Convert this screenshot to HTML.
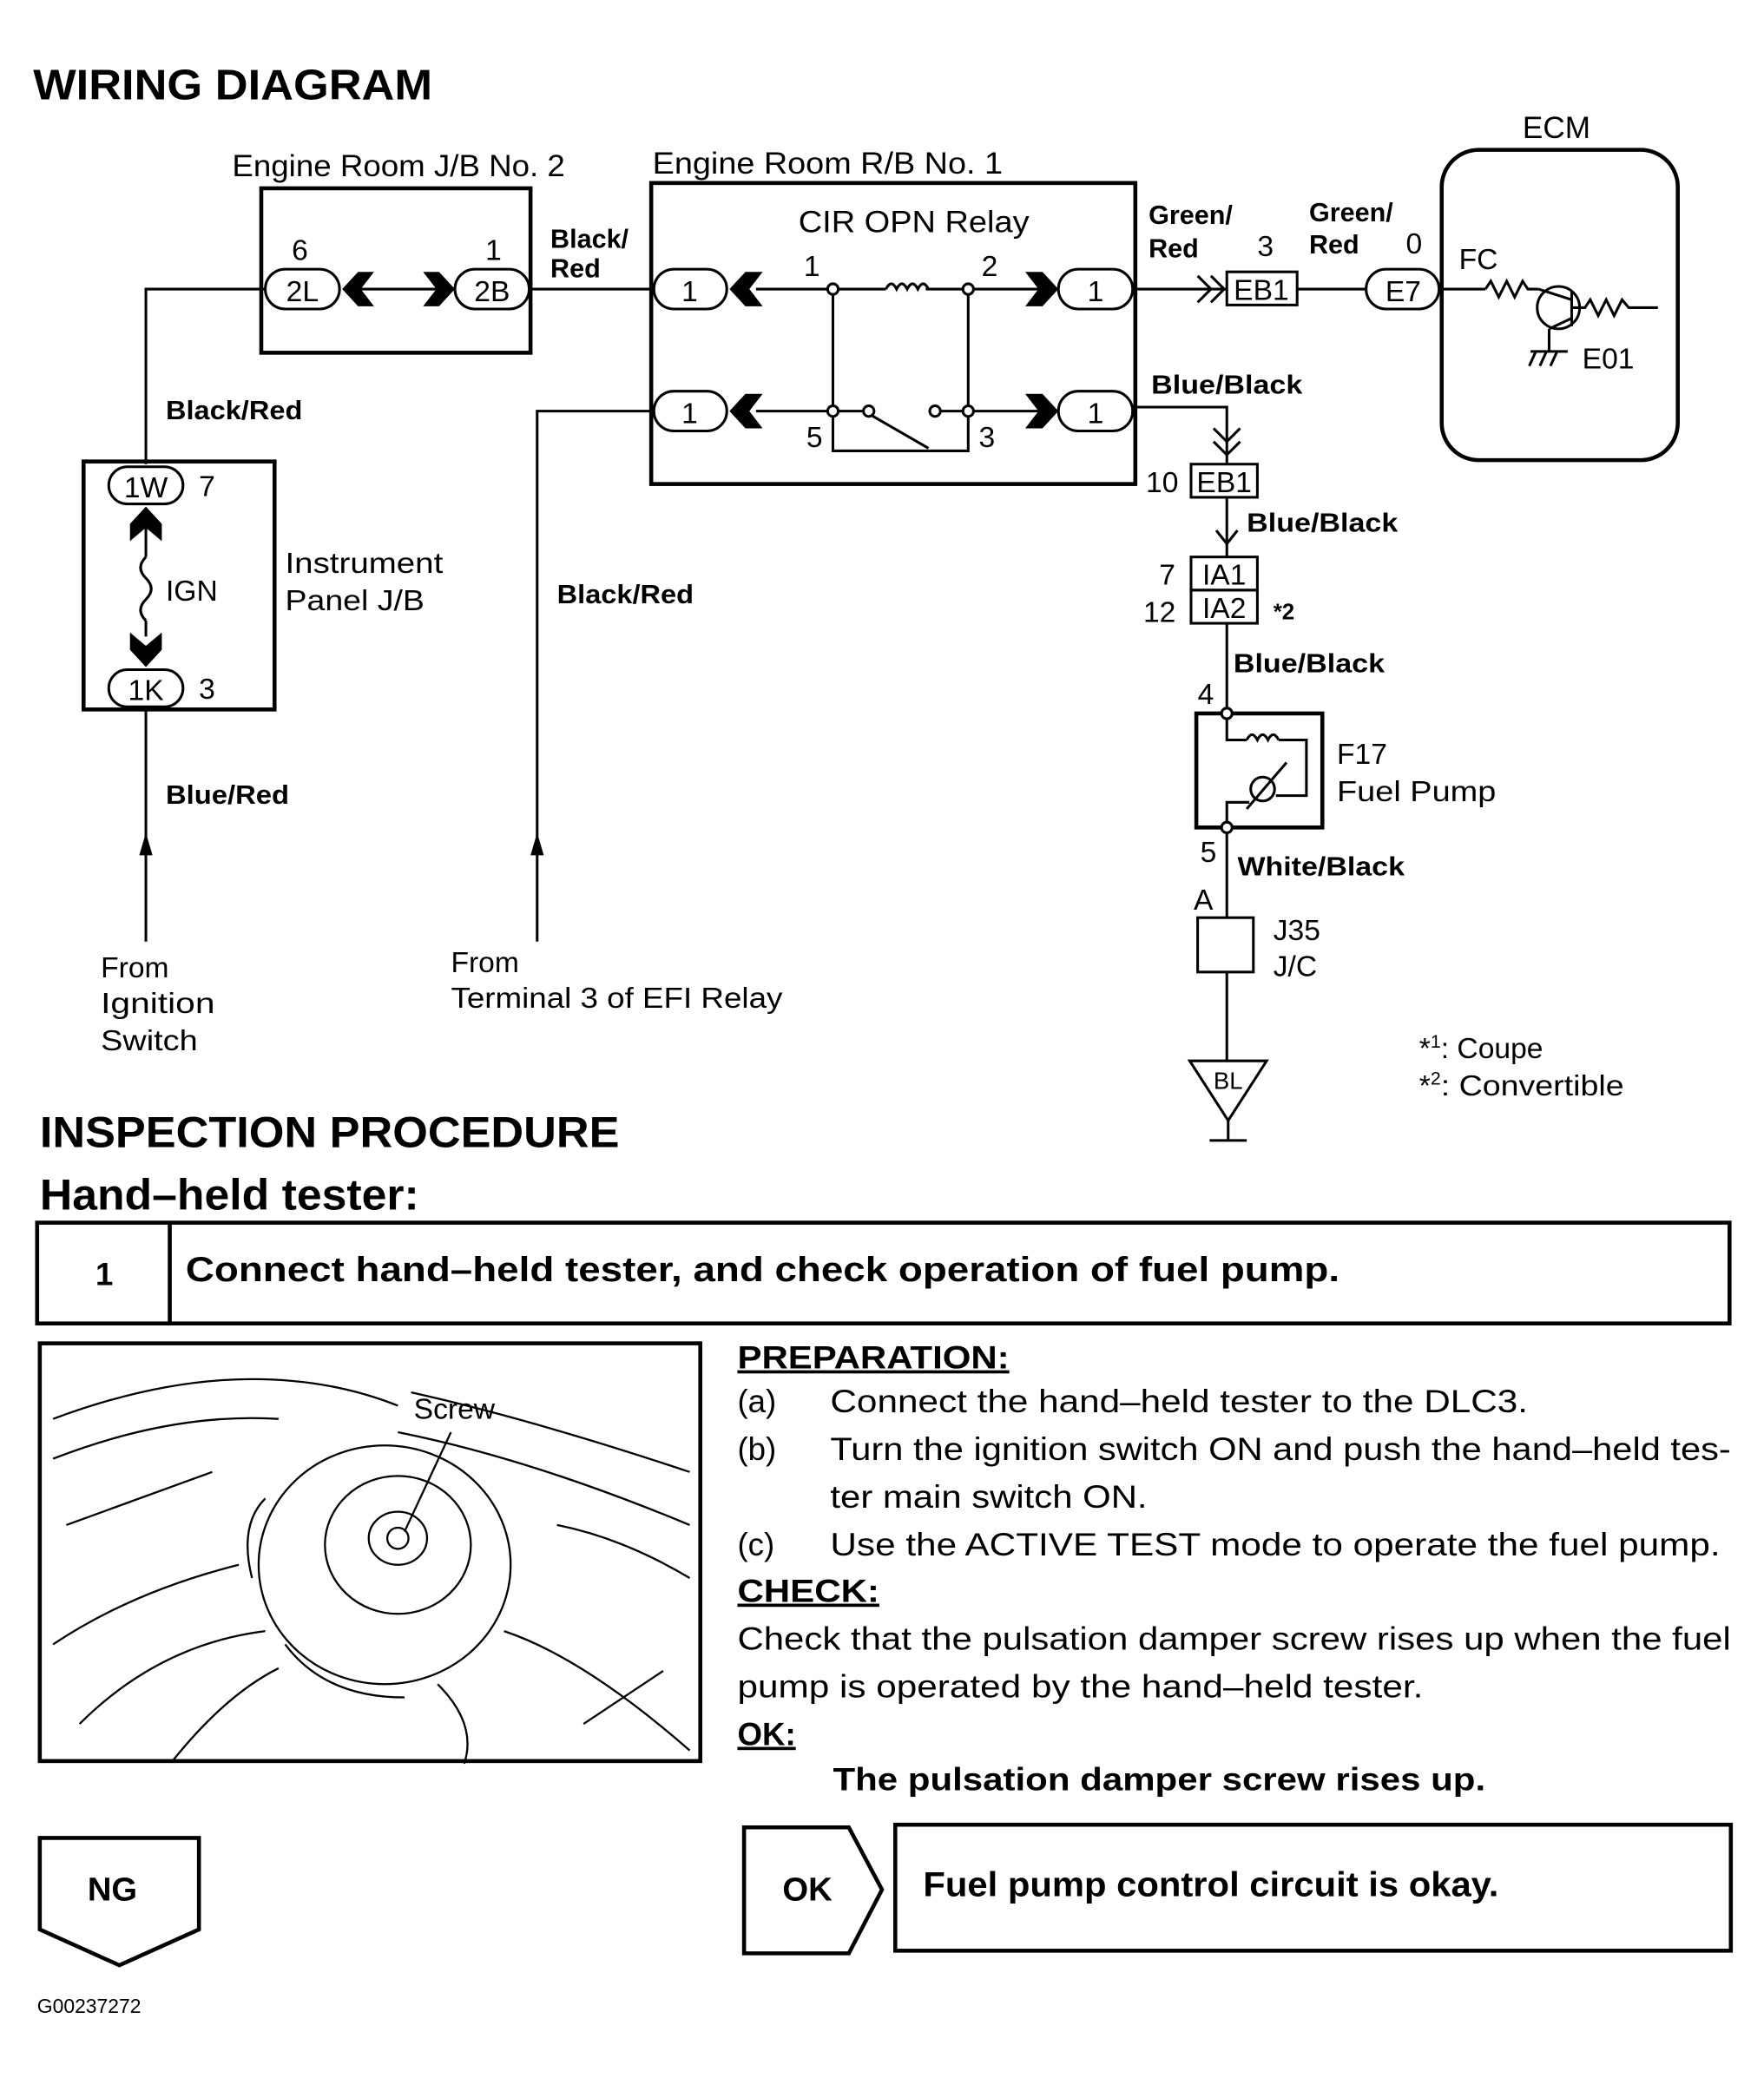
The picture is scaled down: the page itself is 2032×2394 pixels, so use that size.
<!DOCTYPE html>
<html><head><meta charset="utf-8"><style>
html,body{margin:0;padding:0;background:#fff}
svg{display:block}
text{font-family:"Liberation Sans",Arial,sans-serif;fill:#000}
.b{font-weight:bold}
</style></head><body>
<svg width="2032" height="2394" viewBox="0 0 1330 1567" preserveAspectRatio="none" xmlns="http://www.w3.org/2000/svg">
<g fill="none" stroke="#000" stroke-width="2">
<rect x="197" y="142" width="203" height="124" stroke-width="3"/>
<rect x="200" y="203" width="56" height="30" rx="15"/>
<rect x="343" y="203" width="56" height="30" rx="15"/>
<line x1="270" y1="218" x2="330" y2="218"/>
<polyline points="110,350 110,218 200,218"/>
<line x1="400" y1="218" x2="493" y2="218"/>
<rect x="491" y="138" width="365" height="227" stroke-width="3"/>
<rect x="493" y="203" width="55" height="30" rx="15"/>
<rect x="798" y="203" width="56" height="30" rx="15"/>
<rect x="493" y="295" width="55" height="30" rx="15"/>
<rect x="798" y="295" width="56" height="30" rx="15"/>
<line x1="570" y1="218" x2="668" y2="218"/>
<line x1="698" y1="218" x2="785" y2="218"/>
<line x1="570" y1="310" x2="652" y2="310"/>
<line x1="708" y1="310" x2="785" y2="310"/>
<line x1="655" y1="312" x2="700" y2="338"/>
<path d="M668,218 q4,-8 8,0 q4,-8 8,0 q4,-8 8,0 q4,-8 8,0"/>
<polyline points="628,218 628,340 730,340 730,218"/>
<circle cx="628" cy="218" r="4" fill="#fff"/><circle cx="730" cy="218" r="4" fill="#fff"/>
<circle cx="628" cy="310" r="4" fill="#fff"/><circle cx="655" cy="310" r="4" fill="#fff"/>
<circle cx="705" cy="310" r="4" fill="#fff"/><circle cx="730" cy="310" r="4" fill="#fff"/>
<polyline points="493,310 405,310 405,710"/>
<line x1="856" y1="218" x2="925" y2="218"/>
<polyline points="903,208 913,218 903,228"/><polyline points="913,208 923,218 913,228"/>
<rect x="925" y="205" width="53" height="25"/>
<line x1="978" y1="218" x2="1030" y2="218"/>
<rect x="1030" y="203" width="55" height="30" rx="15"/>
<rect x="1087" y="113" width="178" height="234" rx="28" stroke-width="3"/>
<line x1="1088" y1="218" x2="1120" y2="218"/>
<polyline points="1120,218 1124,212 1130,224 1136,212 1142,224 1148,212 1152,218 1160,218"/>
<circle cx="1175" cy="232" r="16"/>
<line x1="1185" y1="220" x2="1185" y2="246"/>
<line x1="1160" y1="218" x2="1185" y2="226"/><line x1="1185" y1="240" x2="1168" y2="248"/>
<polyline points="1185,232 1195,232 1199,226 1205,238 1211,226 1217,238 1223,226 1228,232 1250,232"/>
<line x1="1168" y1="248" x2="1168" y2="265"/>
<line x1="1154" y1="265" x2="1182" y2="265"/>
<line x1="1158" y1="265" x2="1153" y2="276"/><line x1="1166" y1="265" x2="1161" y2="276"/><line x1="1174" y1="265" x2="1169" y2="276"/>
<polyline points="856,307 925,307 925,350"/>
<polyline points="915,323 925,333 935,323"/><polyline points="915,333 925,343 935,333"/>
<rect x="898" y="350" width="50" height="25"/>
<line x1="925" y1="375" x2="925" y2="420"/>
<polyline points="917,400 925,410 933,400"/>
<rect x="898" y="420" width="50" height="25"/><rect x="898" y="445" width="50" height="25"/>
<line x1="925" y1="470" x2="925" y2="538"/>
<rect x="902" y="538" width="95" height="86" stroke-width="3"/>
<polyline points="925,538 925,558 940,558"/>
<path d="M940,558 q4,-8 8,0 q4,-8 8,0 q4,-8 8,0"/>
<polyline points="964,558 985,558 985,600 962,600"/>
<circle cx="952" cy="595" r="9"/><line x1="940" y1="610" x2="970" y2="575"/>
<polyline points="925,624 925,605 942,605"/>
<line x1="925" y1="624" x2="925" y2="692"/>
<circle cx="925" cy="538" r="4" fill="#fff"/><circle cx="925" cy="624" r="4" fill="#fff"/>
<rect x="903" y="692" width="42" height="41"/>
<line x1="925" y1="733" x2="925" y2="800"/>
<polygon points="897,800 955,800 926,845"/>
<line x1="926" y1="845" x2="926" y2="860"/><line x1="912" y1="860" x2="940" y2="860"/>
<rect x="63" y="348" width="144" height="187" stroke-width="3"/>
<rect x="82" y="352" width="56" height="28" rx="14"/>
<rect x="82" y="505" width="56" height="28" rx="14"/>
<line x1="110" y1="395" x2="110" y2="420"/>
<path d="M110,420 q-8,8 0,16 q8,8 0,16 q-8,8 0,16"/>
<line x1="110" y1="468" x2="110" y2="480"/>
<line x1="110" y1="533" x2="110" y2="710"/>
<rect x="28" y="922" width="1276" height="76" stroke-width="3"/>
<line x1="128" y1="922" x2="128" y2="998" stroke-width="3"/>
<rect x="30" y="1013" width="498" height="315" stroke-width="3"/>
<polygon points="30,1386 150,1386 150,1455 90,1482 30,1455" stroke-width="3"/>
<polygon points="561,1378 640,1378 665,1425 640,1473 561,1473" stroke-width="3"/>
<rect x="675" y="1376" width="630" height="95" stroke-width="3"/>
<g stroke-width="1.5">
<path d="M40,1070 q80,-30 150,-30 q60,0 110,20"/>
<path d="M40,1100 q90,-35 170,-30"/>
<path d="M310,1050 q90,20 210,60"/>
<path d="M300,1080 q100,20 220,70"/>
<ellipse cx="290" cy="1180" rx="95" ry="90"/>
<ellipse cx="300" cy="1165" rx="55" ry="52"/>
<ellipse cx="300" cy="1160" rx="22" ry="20"/>
<circle cx="300" cy="1160" r="8"/>
<path d="M200,1130 q-20,20 -10,60"/><path d="M215,1240 q30,40 90,40"/>
<path d="M330,1270 q30,30 20,60"/><path d="M380,1230 q60,20 140,90"/>
<path d="M40,1240 q60,-40 140,-60"/><path d="M60,1300 q60,-60 140,-70"/>
<path d="M130,1328 q40,-50 80,-70"/><path d="M420,1150 q50,10 100,40"/>
<path d="M50,1150 l110,-40"/><path d="M440,1300 l60,-40"/>
<line x1="340" y1="1080" x2="305" y2="1155"/>
</g>
</g>
<g fill="#000">
<polygon points="258,218 270,205 282,205 272,218 282,231 270,231"/>
<polygon points="343,218 331,205 319,205 329,218 319,231 331,231"/>
<polygon points="550,218 562,205 575,205 565,218 575,231 562,231"/>
<polygon points="798,218 786,205 773,205 783,218 773,231 786,231"/>
<polygon points="550,310 562,297 575,297 565,310 575,323 562,323"/>
<polygon points="798,310 786,297 773,297 783,310 773,323 786,323"/>
<polygon points="110,382 98,395 98,408 110,398 122,408 122,395"/>
<polygon points="110,503 98,490 98,477 110,487 122,477 122,490"/>
<polygon points="110,628 105,645 115,645"/>
<polygon points="405,628 400,645 410,645"/>
</g>
<text x="25" y="75" font-size="32" class="b" textLength="301" lengthAdjust="spacingAndGlyphs">WIRING DIAGRAM</text>
<text x="175" y="133" font-size="23" textLength="251" lengthAdjust="spacingAndGlyphs">Engine Room J/B No. 2</text>
<text x="492" y="131" font-size="23" textLength="264" lengthAdjust="spacingAndGlyphs">Engine Room R/B No. 1</text>
<text x="602" y="175" font-size="23" textLength="174" lengthAdjust="spacingAndGlyphs">CIR OPN Relay</text>
<text x="1148" y="104" font-size="23">ECM</text>
<g font-size="22" text-anchor="middle">
<text x="228" y="227">2L</text><text x="371" y="227">2B</text>
<text x="520" y="227">1</text><text x="826" y="227">1</text>
<text x="520" y="319">1</text><text x="826" y="319">1</text>
<text x="951" y="226">EB1</text><text x="1058" y="227">E7</text>
<text x="923" y="371">EB1</text><text x="923" y="441">IA1</text><text x="923" y="466">IA2</text>
<text x="110" y="375">1W</text><text x="110" y="528">1K</text>
<text x="926" y="821" font-size="18">BL</text>
</g>
<g font-size="22">
<text x="220" y="196">6</text><text x="366" y="196">1</text>
<text x="606" y="208">1</text><text x="740" y="208">2</text>
<text x="608" y="337">5</text><text x="738" y="337">3</text>
<text x="948" y="193">3</text><text x="1060" y="191">0</text>
<text x="1100" y="203">FC</text><text x="1193" y="278">E01</text>
<text x="864" y="371">10</text><text x="874" y="441">7</text><text x="862" y="469">12</text>
<text x="903" y="531">4</text><text x="905" y="650">5</text><text x="900" y="686">A</text>
<text x="1008" y="576">F17</text><text x="1008" y="604" textLength="120" lengthAdjust="spacingAndGlyphs">Fuel Pump</text>
<text x="960" y="709">J35</text><text x="960" y="736">J/C</text>
<text x="1070" y="798">*<tspan font-size="14" dy="-8">1</tspan><tspan dy="8">: Coupe</tspan></text>
<text x="1070" y="826">*<tspan font-size="14" dy="-8">2</tspan><tspan dy="8" textLength="138" lengthAdjust="spacingAndGlyphs">: Convertible</tspan></text>
<text x="150" y="374">7</text><text x="150" y="527">3</text>
<text x="125" y="453">IGN</text>
<text x="215" y="432" textLength="119" lengthAdjust="spacingAndGlyphs">Instrument</text><text x="215" y="460" textLength="105" lengthAdjust="spacingAndGlyphs">Panel J/B</text>
<text x="76" y="737">From</text><text x="76" y="764" textLength="86" lengthAdjust="spacingAndGlyphs">Ignition</text><text x="76" y="792" textLength="73" lengthAdjust="spacingAndGlyphs">Switch</text>
<text x="340" y="733">From</text><text x="340" y="760" textLength="250" lengthAdjust="spacingAndGlyphs">Terminal 3 of EFI Relay</text>
<text x="312" y="1070">Screw</text>
</g>
<g font-size="20" class="b">
<text x="415" y="187">Black/</text><text x="415" y="209">Red</text>
<text x="866" y="169">Green/</text><text x="866" y="194">Red</text>
<text x="987" y="167">Green/</text><text x="987" y="191">Red</text>
<text x="868" y="297" textLength="114" lengthAdjust="spacingAndGlyphs">Blue/Black</text><text x="940" y="401" textLength="114" lengthAdjust="spacingAndGlyphs">Blue/Black</text>
<text x="930" y="507" textLength="114" lengthAdjust="spacingAndGlyphs">Blue/Black</text><text x="933" y="660" textLength="126" lengthAdjust="spacingAndGlyphs">White/Black</text>
<text x="125" y="316" textLength="103" lengthAdjust="spacingAndGlyphs">Black/Red</text><text x="420" y="455" textLength="103" lengthAdjust="spacingAndGlyphs">Black/Red</text>
<text x="125" y="606" textLength="93" lengthAdjust="spacingAndGlyphs">Blue/Red</text>
<text x="960" y="467" font-size="17">*2</text>
</g>
<text x="30" y="865" font-size="33" class="b" textLength="437" lengthAdjust="spacingAndGlyphs">INSPECTION PROCEDURE</text>
<text x="30" y="912" font-size="33" class="b" textLength="286" lengthAdjust="spacingAndGlyphs">Hand–held tester:</text>
<text x="72" y="969" font-size="24" class="b">1</text>
<text x="140" y="966" font-size="26" class="b" textLength="870" lengthAdjust="spacingAndGlyphs">Connect hand–held tester, and check operation of fuel pump.</text>
<g font-size="24">
<text x="556" y="1032" class="b" text-decoration="underline" textLength="205" lengthAdjust="spacingAndGlyphs">PREPARATION:</text>
<text x="556" y="1065">(a)</text><text x="626" y="1065" textLength="526" lengthAdjust="spacingAndGlyphs">Connect the hand–held tester to the DLC3.</text>
<text x="556" y="1101">(b)</text><text x="626" y="1101" textLength="679" lengthAdjust="spacingAndGlyphs">Turn the ignition switch ON and push the hand–held tes-</text>
<text x="626" y="1137" textLength="239" lengthAdjust="spacingAndGlyphs">ter main switch ON.</text>
<text x="556" y="1173">(c)</text><text x="626" y="1173" textLength="671" lengthAdjust="spacingAndGlyphs">Use the ACTIVE TEST mode to operate the fuel pump.</text>
<text x="556" y="1208" class="b" text-decoration="underline" textLength="107" lengthAdjust="spacingAndGlyphs">CHECK:</text>
<text x="556" y="1244" textLength="749" lengthAdjust="spacingAndGlyphs">Check that the pulsation damper screw rises up when the fuel</text>
<text x="556" y="1280" textLength="517" lengthAdjust="spacingAndGlyphs">pump is operated by the hand–held tester.</text>
<text x="556" y="1316" class="b" text-decoration="underline">OK:</text>
<text x="628" y="1350" class="b" textLength="492" lengthAdjust="spacingAndGlyphs">The pulsation damper screw rises up.</text>
</g>
<text x="66" y="1433" font-size="25" class="b">NG</text>
<text x="590" y="1433" font-size="25" class="b">OK</text>
<text x="696" y="1430" font-size="26" class="b" textLength="434" lengthAdjust="spacingAndGlyphs">Fuel pump control circuit is okay.</text>
<text x="28" y="1518" font-size="15">G00237272</text>
</svg>
</body></html>
